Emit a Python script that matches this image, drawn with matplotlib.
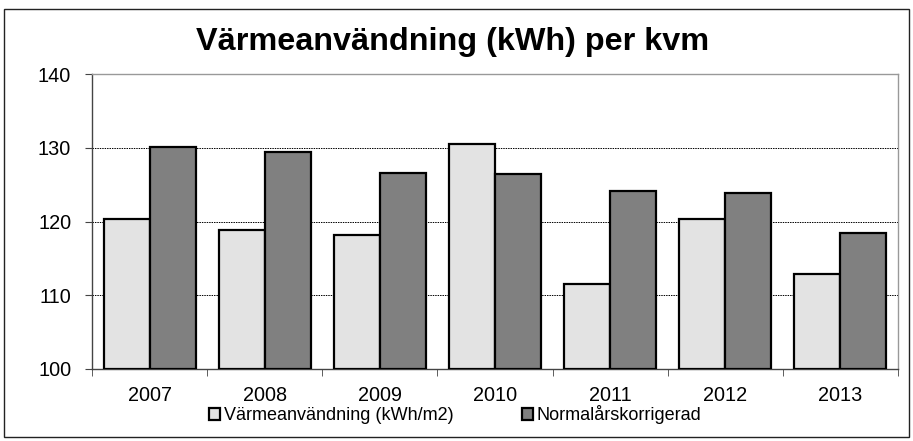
import numpy as np
import matplotlib
matplotlib.use('Agg')
import matplotlib.pyplot as plt
from matplotlib.patches import Rectangle

plt.rcParams['font.family'] = ['Liberation Sans', 'DejaVu Sans']

years = ['2007', '2008', '2009', '2010', '2011', '2012', '2013']
varme = [120.4, 118.9, 118.2, 130.5, 111.5, 120.3, 112.9]
normal = [130.1, 129.4, 126.6, 126.5, 124.1, 123.8, 118.5]
series_names = ['Värmeanvändning (kWh/m2)', 'Normalårskorrigerad']

fig = plt.figure(figsize=(9.13, 4.41), dpi=100)
ax = fig.add_axes([92 / 913, 1 - 369 / 441, 806 / 913, 295 / 441])

# outer chart border
fig.patches.append(Rectangle((4 / 913, 4 / 441), 905 / 913, 428 / 441,
                             transform=fig.transFigure, fill=False,
                             edgecolor='#222222', linewidth=1.0))

x = np.arange(len(years))
w = 0.4
ax.bar(x - w / 2, np.array(varme) - 100, w, bottom=100, color='#e3e3e3',
       edgecolor='black', linewidth=1.6, zorder=3, label=series_names[0])
ax.bar(x + w / 2, np.array(normal) - 100, w, bottom=100, color='#808080',
       edgecolor='black', linewidth=1.6, zorder=3, label=series_names[1])

ax.set_xlim(-0.5, len(years) - 0.5)
ax.set_ylim(100, 140)
ax.set_yticks([100, 110, 120, 130, 140])
for yv in [110, 120, 130]:
    ax.axhline(yv, color='black', linestyle=(0, (1.5, 1.0)), linewidth=0.7, zorder=1)

ax.set_xticks(x)
ax.set_xticklabels(years)
ax.set_xticks(np.arange(len(years) + 1) - 0.5, minor=True)
ax.tick_params(axis='x', which='major', length=0, pad=12, labelsize=14.3)
ax.tick_params(axis='x', which='minor', length=5, direction='out', color='#444444')
ax.tick_params(axis='y', length=5, direction='out', color='#444444', labelsize=14.3, pad=10)

for side in ['top', 'right']:
    ax.spines[side].set_color('#999999')
ax.spines['left'].set_color('#444444')
ax.spines['bottom'].set_color('#444444')
for sp in ax.spines.values():
    sp.set_linewidth(1.0)

fig.text(453 / 913, 1 - 50 / 441, 'Värmeanvändning (kWh) per kvm', ha='center', va='baseline',
         fontsize=23.3, fontweight='bold')

leg = fig.legend(loc='center', bbox_to_anchor=(455 / 913, 1 - 415 / 441), ncol=2,
                 frameon=False, fontsize=13, handlelength=0.6, handleheight=0.6,
                 handletextpad=0.2, columnspacing=3.8, borderaxespad=0)

fig.savefig('out.png', dpi=100)
